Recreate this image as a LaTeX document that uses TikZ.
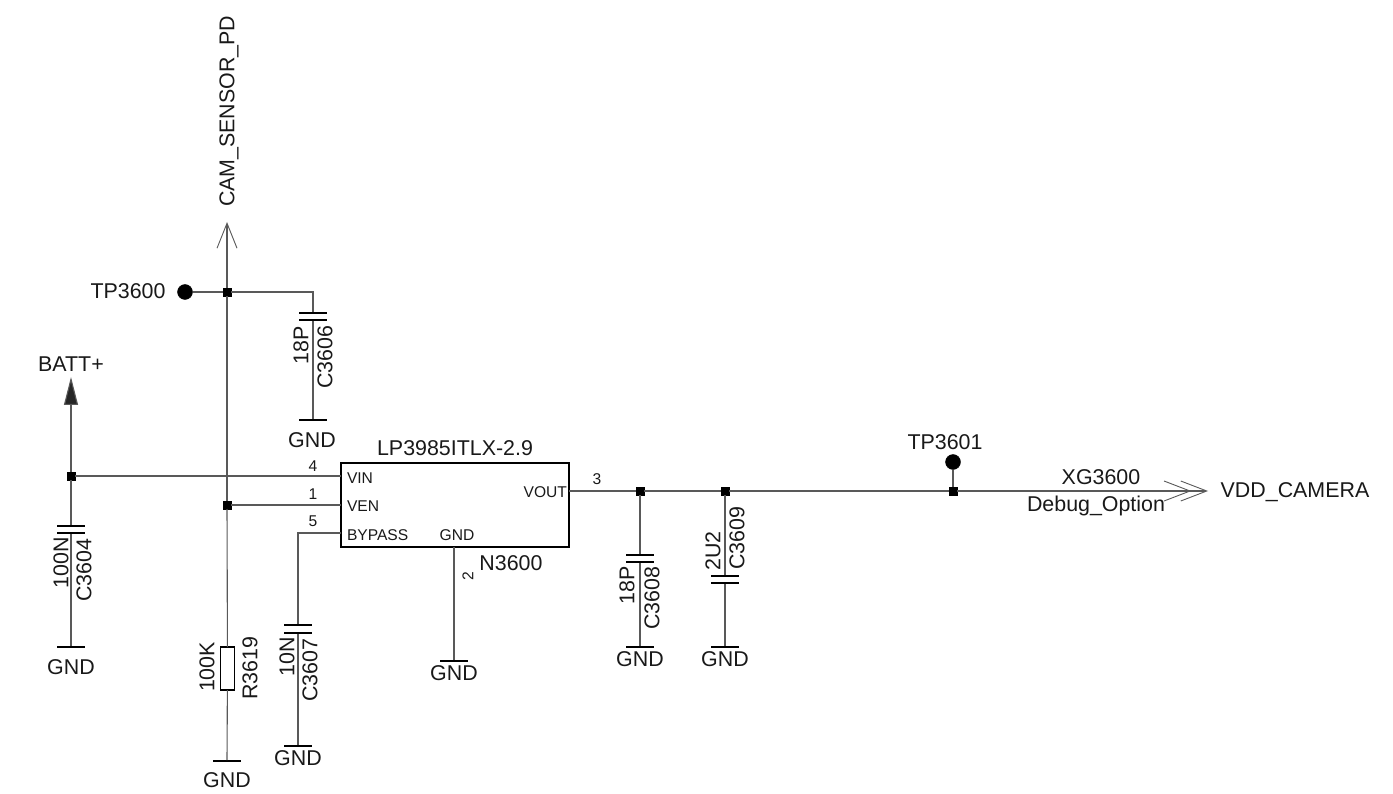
\documentclass[tikz,border=0pt]{standalone}
\usepackage{fontspec}
\setmainfont{Liberation Sans}
\usetikzlibrary{arrows.meta}

\begin{document}
\begin{tikzpicture}[x=1pt, y=-1pt, every node/.style={inner sep=0, outer sep=0}]
\tikzstyle{wire}=[draw=black!65, line width=1.1pt]
\tikzstyle{dot node}=[draw, rectangle, fill=black, minimum size=8pt]
\tikzstyle{test node}=[draw, circle, fill=black, minimum size=15pt]
\tikzstyle{plate}=[rectangle, fill=black, minimum width=28pt, minimum height=2pt]
\tikzstyle{big text}=[font=\fontsize{21.4}{23}\selectfont, text=black!90]
\tikzstyle{small text}=[font=\fontsize{15.6}{17}\selectfont, text=black!90]
\tikzstyle{vert text}=[big text, rotate=90]
\tikzstyle{open tip}=[-{Straight Barb[length=25pt, width=20pt, line width=0.9pt]}]
\tikzstyle{double tip}=[-{Straight Barb[length=26pt, width=20pt, line width=0.9pt, sep=-11pt]Straight Barb[length=26pt, width=20pt, line width=0.9pt]}]
\tikzstyle{solid tip}=[-{Triangle[length=28pt, width=14pt, fill=black!85]}]
\useasboundingbox (0,0) rectangle (1393,794);

% Regulator
\node[draw, line width=1.3pt, rectangle, anchor=north west, minimum width=228pt, minimum height=84pt] (chip) at (341,463) {};
\node[big text] (chipname) at (455,448) {LP3985ITLX-2.9};
\node[big text] (chipref) at (511,563) {N3600};
\node[small text, anchor=west] (vin) at (347,478) {VIN};
\node[small text, anchor=west] (ven) at (347,506) {VEN};
\node[small text, anchor=west] (bypass) at (347,535) {BYPASS};
\node[small text] (gndpin) at (457,535) {GND};
\node[small text, anchor=east] (vout) at (567,492) {VOUT};
\node[small text] (pin4) at (313,466) {4};
\node[small text] (pin1) at (313,494) {1};
\node[small text] (pin5) at (313,521) {5};
\node[small text] (pin3) at (597,479) {3};
\node[small text, rotate=90] (pin2) at (468,576) {2};
\coordinate (chipvin) at (341,476);
\coordinate (chipven) at (341,505);
\coordinate (chipbyp) at (341,533);
\coordinate (chipout) at (569,491);
\coordinate (chipgnd) at (454,547);

% Junctions
\node[dot node] (jtp) at (227,292) {};
\node[dot node] (jen) at (227,505) {};
\node[dot node] (jbat) at (71,476) {};
\node[dot node] (j3608) at (640,491) {};
\node[dot node] (j3609) at (725,491) {};
\node[dot node] (jtp2) at (953,491) {};

% Test points
\node[test node] (tp0) at (185,292) {};
\node[big text] (tp0name) at (128,291) {TP3600};
\node[test node] (tp1) at (953,462) {};
\node[big text] (tp1name) at (945,442) {TP3601};

% Power and signal ends
\coordinate (camtip) at (227,222);
\node[vert text, anchor=west] (camname) at (229,207) {CAM\_SENSOR\_PD};
\coordinate (battip) at (71,377);
\node[big text] (batname) at (71,364) {BATT+};
\coordinate (vddtip) at (1208,491);
\node[big text] (vddname) at (1295,492) {VDD\_CAMERA};
\node[big text] (xgname) at (1101,477) {XG3600};
\node[big text] (xgopt) at (1096,506) {Debug\_Option};

% C3606
\coordinate (c6corner) at (313,292);
\node[plate] (c6a) at (313,313) {};
\node[plate] (c6b) at (313,320) {};
\node[plate] (c6g) at (313,420) {};
\node[big text] (c6gnd) at (312,440) {GND};
\node[vert text] (c6val) at (301,345) {18P};
\node[vert text] (c6ref) at (325,357) {C3606};

% C3604
\node[plate] (c4a) at (71,526) {};
\node[plate] (c4b) at (71,533) {};
\node[plate] (c4g) at (71,647) {};
\node[big text] (c4gnd) at (71,667) {GND};
\node[vert text] (c4val) at (61,563) {100N};
\node[vert text] (c4ref) at (84,570) {C3604};

% R3619
\node[draw, rectangle, line width=1.2pt, minimum width=14pt, minimum height=43pt] (r9) at (227.5,668.5) {};
\node[plate] (r9g) at (227,761) {};
\node[big text] (r9gnd) at (227,780) {GND};
\node[vert text] (r9val) at (207,667) {100K};
\node[vert text] (r9ref) at (250,668) {R3619};

% C3607
\coordinate (c7corner) at (298,533);
\node[plate] (c7a) at (298,625) {};
\node[plate] (c7b) at (298,633) {};
\node[plate] (c7g) at (298,746) {};
\node[big text] (c7gnd) at (298,758) {GND};
\node[vert text] (c7val) at (287,657) {10N};
\node[vert text] (c7ref) at (310,670) {C3607};

% Pin 2 ground
\node[plate] (pin2g) at (454,661) {};
\node[big text] (pin2gnd) at (454,673) {GND};

% C3608
\node[plate] (c8a) at (640,555) {};
\node[plate] (c8b) at (640,562) {};
\node[plate] (c8g) at (640,647) {};
\node[big text] (c8gnd) at (640,659) {GND};
\node[vert text] (c8val) at (627,585) {18P};
\node[vert text] (c8ref) at (652,598) {C3608};

% C3609
\node[plate] (c9a) at (725,576) {};
\node[plate] (c9b) at (725,583) {};
\node[plate] (c9g) at (725,647) {};
\node[big text] (c9gnd) at (725,659) {GND};
\node[vert text] (c9val) at (713,551) {2U2};
\node[vert text] (c9ref) at (737,538) {C3609};

% Wires
\path[wire, open tip] (jtp) -- (camtip);
\path[wire] (jtp) -- (jen);
\path[wire] (jen) -- (r9);
\path[wire] (r9) -- (r9g);
\path[wire] (tp0) -- (jtp);
\path[wire] (jtp) -- (c6corner) -- (c6a);
\path[wire] (c6b) -- (c6g);
\path[wire, solid tip] (jbat) -- (battip);
\path[wire] (jbat) -- (c4a);
\path[wire] (c4b) -- (c4g);
\path[wire] (jbat) -- (chipvin);
\path[wire] (jen) -- (chipven);
\path[wire] (chipbyp) -- (c7corner) -- (c7a);
\path[wire] (c7b) -- (c7g);
\path[wire] (chipgnd) -- (pin2g);
\path[wire] (chipout) -- (j3608);
\path[wire] (j3608) -- (j3609);
\path[wire] (j3609) -- (jtp2);
\path[wire, double tip] (jtp2) -- (vddtip);
\path[wire] (tp1) -- (jtp2);
\path[wire] (j3608) -- (c8a);
\path[wire] (c8b) -- (c8g);
\path[wire] (j3609) -- (c9a);
\path[wire] (c9b) -- (c9g);
\end{tikzpicture}
\end{document}
